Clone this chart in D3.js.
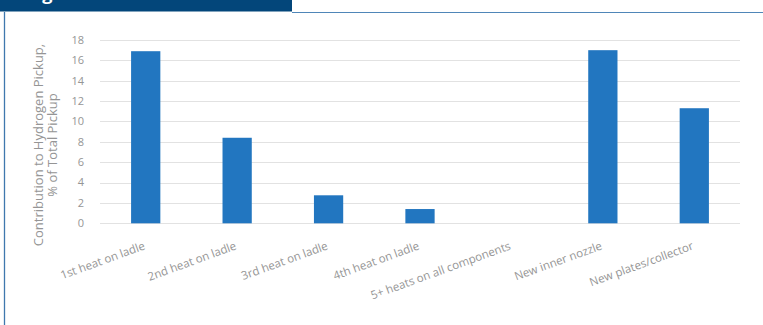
<!DOCTYPE html>
<html>
<head>
<meta charset="utf-8">
<script src="https://cdn.jsdelivr.net/npm/d3@7"></script>
<style>
  body { margin: 0; background: #fff; }
  text { font-family: "Open Sans", "Liberation Sans", sans-serif; }
</style>
</head>
<body>
<div id="chart"></div>
<script>
var categories = ["1st heat on ladle", "2nd heat on ladle", "3rd heat on ladle", "4th heat on ladle",
                  "5+ heats on all components", "New inner nozzle", "New plates/collector"];
var values = [16.9, 8.4, 2.75, 1.4, 0, 17.0, 11.3];
var yTicks = [0, 2, 4, 6, 8, 10, 12, 14, 16, 18];
var titleLines = ["Contribution to Hydrogen Pickup,", "% of Total Pickup"];

var width = 763, height = 325;
var plot = {left: 100, right: 740, top: 40, bottom: 223.3};

var svg = d3.select("#chart").append("svg")
  .attr("width", width)
  .attr("height", height);

// header tab and frame
svg.append("rect").attr("x", 0).attr("y", 0).attr("width", 292).attr("height", 11.5).attr("fill", "#03467a");
svg.append("text").attr("x", 27).attr("y", 0).attr("fill", "#fff")
  .style("font-size", "18px").style("font-weight", "bold").text("Figure 5");
svg.append("line").attr("x1", 292).attr("x2", width).attr("y1", 12.5).attr("y2", 12.5)
  .attr("stroke", "#4f86b8").attr("stroke-width", 1);
svg.append("line").attr("x1", 4.5).attr("x2", 4.5).attr("y1", 12).attr("y2", height)
  .attr("stroke", "#3f78ae").attr("stroke-width", 1.3);

var x = d3.scaleBand()
  .domain(categories)
  .range([plot.left, plot.right])
  .paddingInner(0.68)
  .paddingOuter(0.34);

var y = d3.scaleLinear()
  .domain([0, 18])
  .range([plot.bottom, plot.top]);

// gridlines
svg.append("g").selectAll("line")
  .data(yTicks)
  .enter().append("line")
  .attr("x1", plot.left).attr("x2", plot.right)
  .attr("y1", function(d){ return Math.round(y(d)) + 0.5; })
  .attr("y2", function(d){ return Math.round(y(d)) + 0.5; })
  .attr("stroke", "#e2e2e2")
  .attr("stroke-width", 1.2);

// y tick labels
svg.append("g").selectAll("text")
  .data(yTicks)
  .enter().append("text")
  .attr("x", 84)
  .attr("y", function(d){ return y(d); })
  .attr("dy", "0.35em")
  .attr("text-anchor", "end")
  .style("font-size", "11px")
  .attr("fill", "#959595")
  .text(function(d){ return d; });

// bars
svg.append("g").selectAll("rect")
  .data(values)
  .enter().append("rect")
  .attr("x", function(d, i){ return x(categories[i]); })
  .attr("width", x.bandwidth())
  .attr("y", function(d){ return y(d); })
  .attr("height", function(d){ return y(0) - y(d); })
  .attr("fill", "#2276c0");

// x labels, rotated
svg.append("g").selectAll("text")
  .data(categories)
  .enter().append("text")
  .attr("transform", function(d){
    return "translate(" + (x(d) + x.bandwidth() / 2) + ",249) rotate(-20)";
  })
  .attr("text-anchor", "end")
  .style("font-size", "11.5px")
  .attr("fill", "#959595")
  .text(function(d){ return d; });

// y axis title
var tCenter = 145;
svg.append("g").selectAll("text")
  .data(titleLines)
  .enter().append("text")
  .attr("transform", function(d, i){
    return "translate(" + (43 + i * 13.5) + "," + tCenter + ") rotate(-90)";
  })
  .attr("text-anchor", "middle")
  .style("font-size", "13px")
  .attr("fill", "#959595")
  .text(function(d){ return d; });
</script>
</body>
</html>
